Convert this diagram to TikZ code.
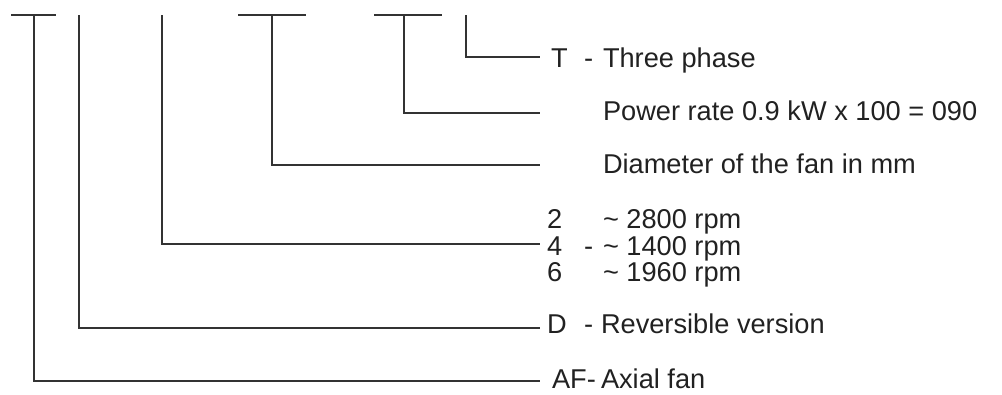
\documentclass[tikz,border=0pt]{standalone}
\usepackage{fontspec}
\setmainfont{Liberation Sans}
\begin{document}
\begin{tikzpicture}[x=1pt,y=-1pt,
  leader/.style={draw=black!80,line width=1.2pt},
  lbl/.style={anchor=base west,inner sep=0pt,outer sep=0pt,text=black!87,font=\fontsize{27.2}{30}\selectfont}]
\useasboundingbox (0,0) rectangle (1002,394);
% top bars
\coordinate (b1l) at (11,15); \coordinate (b1r) at (56,15);
\coordinate (b2l) at (238,15); \coordinate (b2r) at (306,15);
\coordinate (b3l) at (374,15); \coordinate (b3r) at (442,15);
\draw[leader] (b1l) -- (b1r);
\draw[leader] (b2l) -- (b2r);
\draw[leader] (b3l) -- (b3r);
% vertical starts
\coordinate (vAF) at (34,15);
\coordinate (vD) at (79,15);
\coordinate (vP) at (162,15);
\coordinate (vDia) at (272,15);
\coordinate (vPow) at (404,15);
\coordinate (vT) at (466,15);
% line ends
\coordinate (eT) at (540,57);
\coordinate (ePow) at (540,113);
\coordinate (eDia) at (540,165);
\coordinate (eP) at (540,244);
\coordinate (eD) at (540,328);
\coordinate (eAF) at (540,381);
\draw[leader] (vT) |- (eT);
\draw[leader] (vPow) |- (ePow);
\draw[leader] (vDia) |- (eDia);
\draw[leader] (vP) |- (eP);
\draw[leader] (vD) |- (eD);
\draw[leader] (vAF) |- (eAF);
% labels
\node[lbl] (cT) at (551,67) {T};
\node[lbl] (hT) at (584,67) {-};
\node[lbl] (tT) at (603,67) {Three phase};
\node[lbl] (tPow) at (603,120.5) {Power rate 0.9 kW x 100 = 090};
\node[lbl] (tDia) at (603,173) {Diameter of the fan in mm};
\node[lbl] (c2) at (547,228.3) {2};
\node[lbl] (t2) at (603,228.3) {\char"007E\ 2800 rpm};
\node[lbl] (c4) at (547,255) {4};
\node[lbl] (h4) at (584,255) {-};
\node[lbl] (t4) at (603,255) {\char"007E\ 1400 rpm};
\node[lbl] (c6) at (547,281.7) {6};
\node[lbl] (t6) at (603,281.7) {\char"007E\ 1960 rpm};
\node[lbl] (cD) at (547,333.3) {D};
\node[lbl] (hD) at (584,333.3) {-};
\node[lbl] (tD) at (601,333.3) {Reversible version};
\node[lbl] (cAF) at (552,388.3) {AF-};
\node[lbl] (tAF) at (601,388.3) {Axial fan};
\end{tikzpicture}
\end{document}
